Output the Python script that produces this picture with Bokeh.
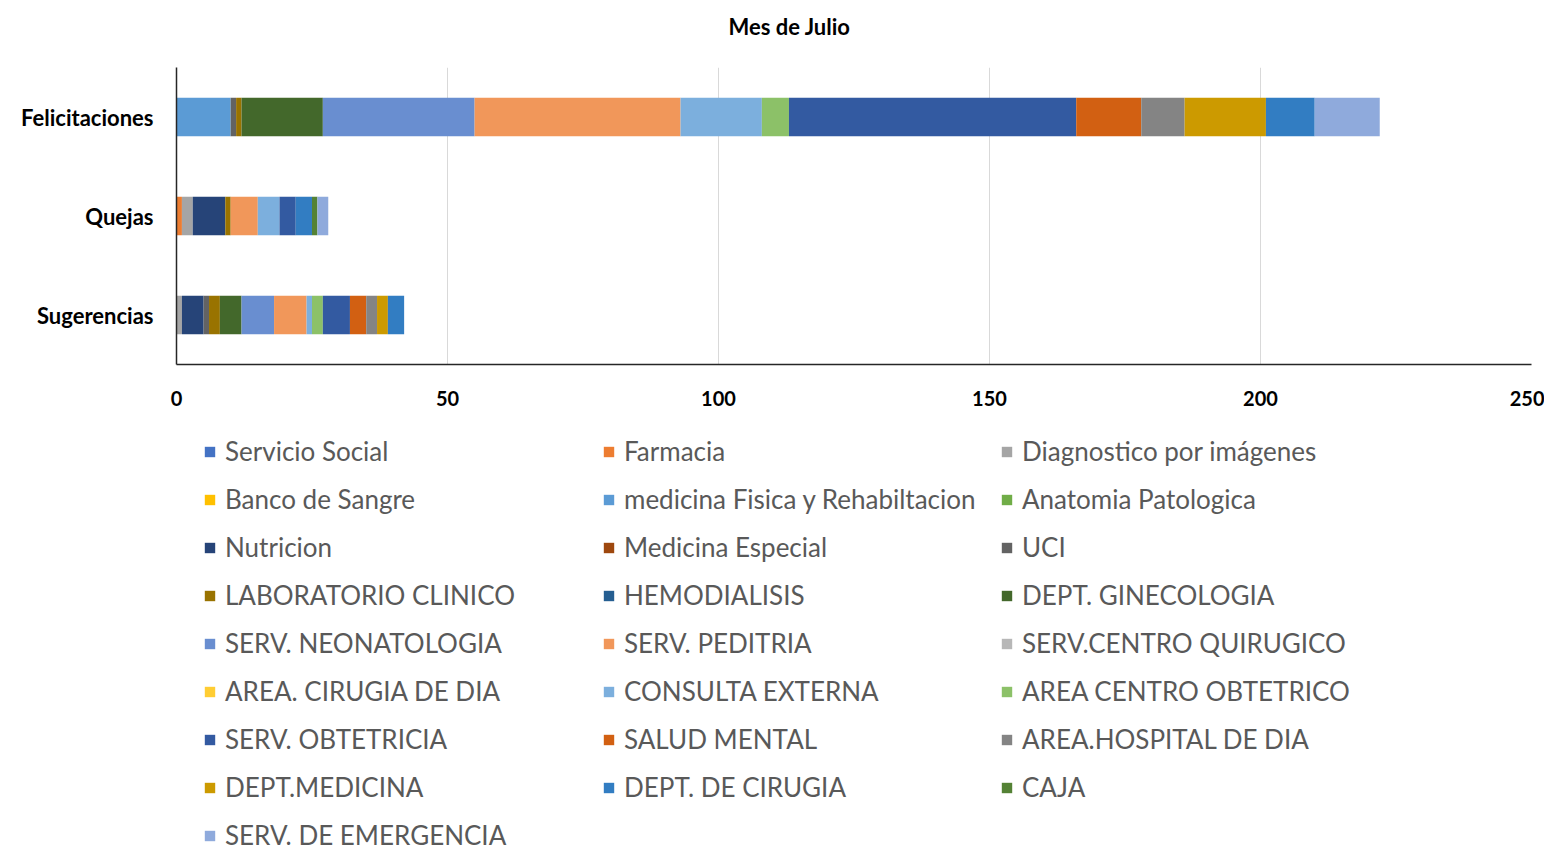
from bokeh.plotting import figure
from bokeh.models import (ColumnDataSource, Range1d, FactorRange, Legend, LegendItem,
                          Title, FixedTicker)
from bokeh.layouts import column
from bokeh.embed import file_html
from bokeh.resources import INLINE

# ---- data (values per category: Felicitaciones, Quejas, Sugerencias) ----
categories = ["Felicitaciones", "Quejas", "Sugerencias"]

servicio_social = [0, 0, 0]
farmacia = [0, 1, 0]
diagnostico = [0, 2, 1]
banco_sangre = [0, 0, 0]
medicina_fisica = [10, 0, 0]
anatomia = [0, 0, 0]
nutricion = [0, 6, 4]
medicina_especial = [0, 0, 0]
uci = [1, 0, 1]
laboratorio = [1, 1, 2]
hemodialisis = [0, 0, 0]
ginecologia = [15, 0, 4]
neonatologia = [28, 0, 6]
peditria = [38, 5, 6]
centro_quirurgico = [0, 0, 0]
cirugia_dia = [0, 0, 0]
consulta_externa = [15, 4, 1]
centro_obtetrico = [5, 0, 2]
obtetricia = [53, 3, 5]
salud_mental = [12, 0, 3]
hospital_dia = [8, 0, 2]
dept_medicina = [15, 0, 2]
dept_cirugia = [9, 3, 3]
caja = [0, 1, 0]
emergencia = [12, 2, 0]

series_names = [
    "Servicio Social", "Farmacia", "Diagnostico por imágenes",
    "Banco de Sangre", "medicina Fisica y Rehabiltacion", "Anatomia Patologica",
    "Nutricion", "Medicina Especial", "UCI",
    "LABORATORIO CLINICO", "HEMODIALISIS", "DEPT. GINECOLOGIA",
    "SERV. NEONATOLOGIA", "SERV. PEDITRIA", "SERV.CENTRO QUIRUGICO",
    "AREA. CIRUGIA DE DIA", "CONSULTA EXTERNA", "AREA CENTRO OBTETRICO",
    "SERV. OBTETRICIA", "SALUD MENTAL", "AREA.HOSPITAL DE DIA",
    "DEPT.MEDICINA", "DEPT. DE CIRUGIA", "CAJA",
    "SERV. DE EMERGENCIA",
]
series_values = [
    servicio_social, farmacia, diagnostico, banco_sangre, medicina_fisica, anatomia,
    nutricion, medicina_especial, uci, laboratorio, hemodialisis, ginecologia,
    neonatologia, peditria, centro_quirurgico, cirugia_dia, consulta_externa,
    centro_obtetrico, obtetricia, salud_mental, hospital_dia, dept_medicina,
    dept_cirugia, caja, emergencia,
]
colors = [
    "#4472C4", "#ED7D31", "#A5A5A5", "#FFC000", "#5B9BD5", "#70AD47",
    "#264478", "#9E480E", "#636363", "#997300", "#255E91", "#43682B",
    "#698ED0", "#F1975A", "#B7B7B7", "#FFCD33", "#7CAFDD", "#8CC168",
    "#335AA1", "#D26012", "#848484", "#CC9A00", "#327DC2", "#548235",
    "#8FAADC",
]

FONT = "Lato"

keys = ["s%d" % i for i in range(len(series_names))]
data = {"cat": categories}
for k, v in zip(keys, series_values):
    data[k] = v
src = ColumnDataSource(data)

# ---- top chart ----
p = figure(width=1544, height=430,
           y_range=FactorRange(factors=["Sugerencias", "Quejas", "Felicitaciones"]),
           x_range=Range1d(0, 250),
           output_backend="svg", toolbar_location=None,
           min_border_left=176, min_border_right=13,
           min_border_top=67, min_border_bottom=66)

p.hbar_stack(keys, y="cat", height=0.39, color=colors, source=src, line_color=None)

# spacer between title and frame (added first -> closest to the frame)
spacer = Title(text=" ", text_font_size="1px", text_color="#ffffff")
try:
    spacer.standoff = 13
except Exception:
    pass
p.add_layout(spacer, "above")

title = Title(text="Mes de Julio", align="left", offset=552, vertical_align="top",
              text_font=FONT, text_font_size="22px", text_font_style="bold",
              text_color="#000000")
try:
    title.standoff = 20
except Exception:
    pass
p.add_layout(title, "above")

p.xaxis.ticker = FixedTicker(ticks=[0, 50, 100, 150, 200, 250])
for ax in (p.xaxis, p.yaxis):
    ax.major_tick_line_color = None
    ax.minor_tick_line_color = None
    ax.axis_line_color = "#262626"
    ax.axis_line_width = 1.5
    ax.major_label_text_font = FONT
    ax.major_label_text_font_style = "bold"
    ax.major_label_text_color = "#000000"
p.xaxis.major_label_text_font_size = "20px"
p.yaxis.major_label_text_font_size = "22px"
p.xaxis.major_label_standoff = 20
p.yaxis.major_label_standoff = 17
p.xgrid.grid_line_color = "#d9d9d9"
p.ygrid.grid_line_color = None
p.outline_line_color = None

# ---- legend panel ----
P2H = 424
p2 = figure(width=1544, height=P2H, x_range=Range1d(0, 1), y_range=Range1d(0, 1),
            output_backend="svg", toolbar_location=None, min_border=0)
p2.axis.visible = False
p2.grid.grid_line_color = None
p2.outline_line_color = None

items = []
for name, c in zip(series_names, colors):
    r = p2.hbar(y=[-10], right=[0.5], height=0.5, color=c, line_color=None)
    items.append(LegendItem(label=name, renderers=[r]))

ITEM_H = 32
SPACING = 16
col_x = [27, 426, 824]
for ci in range(3):
    its = items[ci::3]
    n = len(its)
    height = n * ITEM_H + (n - 1) * SPACING
    ybot = P2H - 5 - height
    leg = Legend(items=its, location=(col_x[ci], ybot), orientation="vertical",
                 padding=0, margin=0, spacing=SPACING, glyph_width=13, glyph_height=13,
                 label_height=ITEM_H, label_standoff=9,
                 label_text_font=FONT, label_text_font_size="26px",
                 label_text_color="#595959",
                 border_line_color=None, background_fill_alpha=0)
    p2.add_layout(leg)

layout = column(p, p2)
open("out.html", "w").write(file_html(layout, INLINE))
